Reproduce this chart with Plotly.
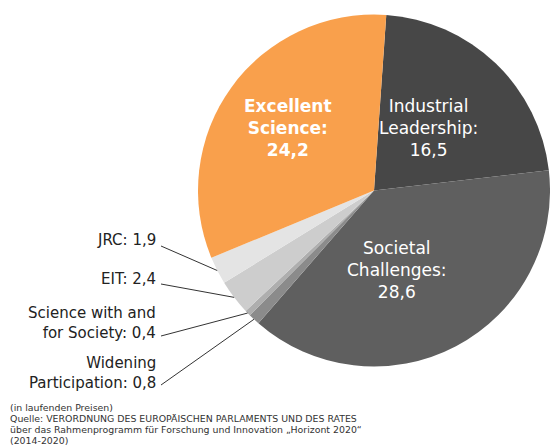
import math
import plotly.graph_objects as go

# ---- data ----
labels = ["Industrial Leadership", "Societal Challenges", "Widening Participation",
          "Science with and for Society", "EIT", "JRC", "Excellent Science"]
values = [16.5, 28.6, 0.8, 0.4, 2.4, 1.9, 24.2]
value_text = ["16,5", "28,6", "0,8", "0,4", "2,4", "1,9", "24,2"]
colors = ["#474747", "#5f5f5f", "#8b8b8b", "#aeaeae", "#cdcdcd", "#e4e4e4", "#f9a04c"]
label_lines = [["Industrial", "Leadership:"], ["Societal", "Challenges:"],
               ["Widening", "Participation:"], ["Science with and", "for Society:"],
               ["EIT:"], ["JRC:"], ["Excellent", "Science:"]]
footer = ["(in laufenden Preisen)",
          "Quelle: VERORDNUNG DES EUROPÄISCHEN PARLAMENTS UND DES RATES",
          "über das Rahmenprogramm für Forschung und Innovation „Horizont 2020“",
          "(2014-2020)"]

W, H = 550, 446
cx, cy, R = 374, 190.5, 176
rotation = 4
FONT = "DejaVu Sans"

fig = go.Figure(go.Pie(
    labels=labels, values=values, sort=False, direction="clockwise",
    rotation=rotation, textinfo="none", hoverinfo="label+value",
    marker=dict(colors=colors, line=dict(width=0)),
    domain=dict(x=[(cx - R) / W, min(1, (cx + R) / W)],
                y=[1 - (cy + R) / H, 1 - (cy - R) / H]),
    showlegend=False,
))

def px(x, y):
    return x / W, 1 - y / H

annotations = []
shapes = []

# inside labels (big slices)
inside = {0: (428, 128, False), 1: (397, 270, False), 6: (288, 128, True)}
for i, (lx, ly, bold) in inside.items():
    txt = "<br>".join(label_lines[i] + [value_text[i]])
    if bold:
        txt = "<b>" + txt + "</b>"
    x, y = px(lx, ly)
    annotations.append(dict(x=x, y=y, xref="paper", yref="paper", text=txt,
                            showarrow=False, xanchor="center", yanchor="middle",
                            font=dict(family=FONT, size=17, color="white")))

# outside labels with leader lines (small slices)
total = sum(values)
cum = [sum(values[:k]) for k in range(len(values))]
outside = {5: (240, 246), 4: (279, 284), 3: (322.5, 336), 2: (372.5, 385)}
label_right = 158
for i, (ly, line_y) in outside.items():
    lines = list(label_lines[i])
    lines[-1] = lines[-1] + " " + value_text[i]
    x, y = px(label_right, ly)
    annotations.append(dict(x=x, y=y, xref="paper", yref="paper",
                            text="<br>".join(lines), showarrow=False,
                            xanchor="right", yanchor="middle", align="right",
                            font=dict(family=FONT, size=15, color="#222222")))
    ang = math.radians(rotation + (cum[i] + values[i] / 2) / total * 360)
    tx = cx + R * math.sin(ang)
    ty = cy - R * math.cos(ang)
    x0, y0 = px(label_right + 3, line_y)
    x1, y1 = px(tx, ty)
    shapes.append(dict(type="line", xref="paper", yref="paper",
                       x0=x0, y0=y0, x1=x1, y1=y1,
                       line=dict(color="#333333", width=1)))

for k, line in enumerate(footer):
    fx, fy = px(8, 407 + 11 * k)
    annotations.append(dict(x=fx, y=fy, xref="paper", yref="paper",
                            text=line, showarrow=False,
                            xanchor="left", yanchor="middle", align="left",
                            font=dict(family=FONT, size=9.4, color="#333333")))

fig.update_layout(width=W, height=H, margin=dict(l=0, r=0, t=0, b=0),
                  paper_bgcolor="white", plot_bgcolor="white",
                  annotations=annotations, shapes=shapes)

fig.write_html("out.html", config={"displayModeBar": False},
               post_script="document.body.style.margin='0';document.body.style.overflow='hidden';")
